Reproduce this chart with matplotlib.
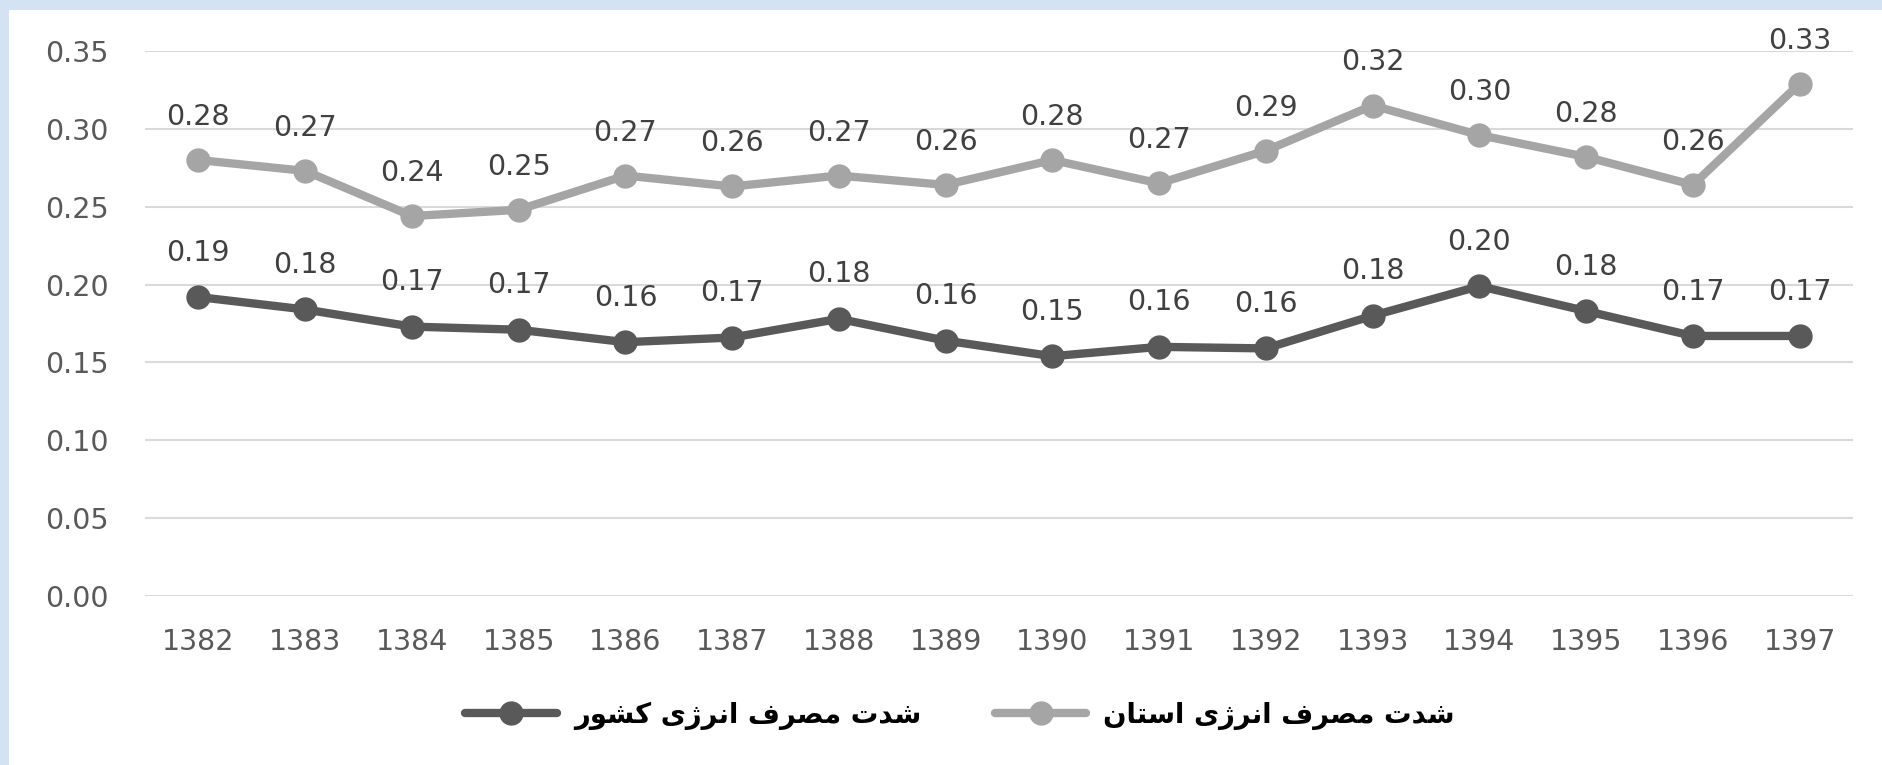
import matplotlib
matplotlib.use("Agg")
import matplotlib.pyplot as plt
from matplotlib import font_manager, ft2font
from matplotlib.patches import Rectangle

# ---------------- data ----------------
years = ["1382", "1383", "1384", "1385", "1386", "1387", "1388", "1389",
         "1390", "1391", "1392", "1393", "1394", "1395", "1396", "1397"]
province = [0.280, 0.273, 0.244, 0.248, 0.270, 0.263, 0.270, 0.264,
            0.280, 0.265, 0.286, 0.315, 0.296, 0.282, 0.264, 0.329]
country = [0.192, 0.184, 0.173, 0.171, 0.163, 0.166, 0.178, 0.164,
           0.154, 0.160, 0.159, 0.180, 0.199, 0.183, 0.167, 0.167]
label_province = "شدت مصرف انرژی استان"
label_country = "شدت مصرف انرژی کشور"
yticks = [0.00, 0.05, 0.10, 0.15, 0.20, 0.25, 0.30, 0.35]

# ---------------- simple Persian shaping ----------------
FONT = "DejaVu Sans"
_path = font_manager.findfont(font_manager.FontProperties(family=FONT))
_cmap = ft2font.FT2Font(_path).get_charmap()

# forms: (isolated, final, initial, medial); None for initial/medial => right-joining only
FORMS = {
    "ا": (0xFE8D, 0xFE8E, None, None),
    "د": (0xFEA9, 0xFEAA, None, None),
    "ر": (0xFEAD, 0xFEAE, None, None),
    "ژ": (0xFB8A, 0xFB8B, None, None),
    "و": (0xFEED, 0xFEEE, None, None),
    "ت": (0xFE95, 0xFE96, 0xFE97, 0xFE98),
    "س": (0xFEB1, 0xFEB2, 0xFEB3, 0xFEB4),
    "ش": (0xFEB5, 0xFEB6, 0xFEB7, 0xFEB8),
    "ص": (0xFEB9, 0xFEBA, 0xFEBB, 0xFEBC),
    "ف": (0xFED1, 0xFED2, 0xFED3, 0xFED4),
    "م": (0xFEE1, 0xFEE2, 0xFEE3, 0xFEE4),
    "ن": (0xFEE5, 0xFEE6, 0xFEE7, 0xFEE8),
    "ک": (0xFB8E, 0xFB8F, 0xFB90, 0xFB91),
    "ی": (0xFBFC, 0xFBFD, 0xFBFE, 0xFBFF),
}
FALLBACK = {
    "ک": (0xFED9, 0xFEDA, 0xFEDB, 0xFEDC),
    "ی": (0xFEEF, 0xFEF0, 0xFEF3, 0xFEF4),
}


def _joins_left(ch):
    return ch in FORMS and FORMS[ch][2] is not None


def shape(text):
    out = []
    n = len(text)
    for i, ch in enumerate(text):
        if ch not in FORMS:
            out.append(ch)
            continue
        prev = text[i - 1] if i > 0 else ""
        nxt = text[i + 1] if i + 1 < n else ""
        jp = _joins_left(prev)
        jn = _joins_left(ch) and nxt in FORMS
        if jp and jn:
            idx = 3
        elif jp:
            idx = 1
        elif jn:
            idx = 2
        else:
            idx = 0
        cp = FORMS[ch][idx]
        if cp not in _cmap and ch in FALLBACK:
            cp = FALLBACK[ch][idx]
        if idx == 0 and ord(ch) in _cmap:
            out.append(ch)
        elif cp in _cmap:
            out.append(chr(cp))
        else:
            out.append(ch)
    return "".join(reversed(out))


# ---------------- figure ----------------
W, H = 1883, 765
fig = plt.figure(figsize=(W / 100, H / 100), dpi=100)
fig.patch.set_facecolor("#d3e3f4")
fig.add_artist(Rectangle((9 / W, 0), 1, 1 - 10 / H, transform=fig.transFigure,
                         facecolor="white", edgecolor="none", zorder=0))

ax = fig.add_axes([145 / W, 1 - 596 / H, (1853 - 145) / W, (596 - 51) / H])
ax.set_facecolor("none")
x = list(range(len(years)))

light = "#a5a5a5"
dark = "#595959"
ax.plot(x, province, color=light, lw=6, marker="o", ms=16.5, solid_capstyle="round",
        label=shape(label_province), zorder=3)
ax.plot(x, country, color=dark, lw=6, marker="o", ms=16.5, solid_capstyle="round",
        label=shape(label_country), zorder=3)

FS = 20.5
for xi, v in zip(x, province):
    ax.annotate(f"{v:.2f}", (xi, v), xytext=(0, 31), textcoords="offset points",
                ha="center", va="center", fontsize=FS, color="#404040", family=FONT)
for xi, v in zip(x, country):
    ax.annotate(f"{v:.2f}", (xi, v), xytext=(0, 32), textcoords="offset points",
                ha="center", va="center", fontsize=FS, color="#404040", family=FONT)

ax.set_xlim(-0.5, len(years) - 0.5)
ax.set_ylim(0, 0.35)
ax.set_yticks(yticks)
ax.set_yticklabels([f"{t:.2f}" for t in yticks])
ax.set_xticks(x)
ax.set_xticklabels(years)
ax.grid(axis="y", color="#d9d9d9", lw=1.5, zorder=1)
ax.set_axisbelow(True)
for s in ax.spines.values():
    s.set_visible(False)
ax.tick_params(axis="both", length=0, labelsize=FS, labelcolor="#595959")
ax.tick_params(axis="y", pad=26)
ax.tick_params(axis="x", pad=23)

h, l = ax.get_legend_handles_labels()
LFS = 19.8
leg = fig.legend([h[1], h[0]], [l[1], l[0]], loc="center",
                 bbox_to_anchor=(960 / W, 1 - 715 / H), ncol=2, frameon=False,
                 prop={"family": FONT, "size": LFS, "weight": "bold"},
                 handlelength=66 / LFS, handletextpad=12 / LFS,
                 columnspacing=53 / LFS)
for t in leg.get_texts():
    t.set_color("#000000")

fig.savefig("out.png", dpi=100, facecolor=fig.get_facecolor())
